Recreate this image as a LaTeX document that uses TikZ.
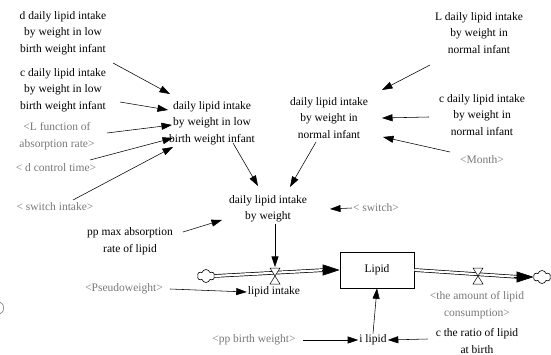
\documentclass[tikz,border=0pt]{standalone}
\usepackage{fontspec}
\setmainfont{Liberation Serif}
\usetikzlibrary{arrows.meta,shapes.symbols,calc}
\definecolor{shadowgray}{RGB}{120,120,120}
\begin{document}
\begin{tikzpicture}[x=1pt,y=-1pt,
  lbl/.style={align=center,font=\fontsize{11.5}{16.5}\selectfont,inner sep=1pt},
  shadow/.style={lbl,text=shadowgray},
  arr/.style={-{Triangle[length=10.5pt,width=7pt]},line width=0.55pt},
  bigarr/.style={-{Triangle[length=17pt,width=11pt]},line width=0.6pt},
  pipe/.style={double,double distance=2.2pt,line width=0.7pt},
  stock/.style={draw,line width=0.6pt,minimum width=74pt,minimum height=36pt,
    font=\fontsize{11.5}{16.5}\selectfont},
  cloudy/.style={cloud,cloud puffs=6,draw,line width=0.6pt,fill=white,
    minimum width=17pt,minimum height=13pt,inner sep=0pt},
  valvebody/.style={draw,line width=0.5pt,fill=white}
]
\useasboundingbox (0,0) rectangle (551,355);

% auxiliaries and constants
\node[lbl]    (dlow)   at (63,33)   {d daily lipid intake\\by weight in low\\birth weight infant};
\node[lbl]    (clow)   at (63,90)   {c daily lipid intake\\by weight in low\\birth weight infant};
\node[shadow] (lfun)   at (57,136)  {<L function of\\absorption rate>};
\node[shadow] (dctl)   at (56,168)  {< d control time>};
\node[shadow] (swin)   at (55,207)  {< switch intake>};
\node[lbl]    (low)    at (212,123) {daily lipid intake\\by weight in low\\birth weight infant};
\node[lbl]    (lnorm)  at (479,33)  {L daily lipid intake\\by weight in\\normal infant};
\node[lbl]    (norm)   at (329,118) {daily lipid intake\\by weight in\\normal infant};
\node[lbl]    (cnorm)  at (482,115) {c daily lipid intake\\by weight in\\normal infant};
\node[shadow] (month)  at (482,160) {<Month>};
\node[lbl]    (dlw)    at (268,209) {daily lipid intake\\by weight};
\node[shadow] (sw)     at (376,208) {< switch>};
\node[lbl]    (ppmax)  at (130,241) {pp max absorption\\rate of lipid};

% stock and flows
\node[stock]  (lipid)  at (377,270) {Lipid};
\node[cloudy] (src)    at (206,276) {};
\node[cloudy] (sink)   at (542,277) {};
\coordinate (v1) at (275,276);
\coordinate (v2) at (478,276);
\node[lbl]    (lin)    at (274,292) {lipid intake};
\node[shadow] (pseudo) at (124,289) {<Pseudoweight>};
\node[shadow] (amount) at (477,305) {<the amount of lipid\\consumption>};
\node[lbl]    (cratio) at (477,341) {c the ratio of lipid\\at birth};
\node[lbl]    (ilipid) at (373,340) {i lipid};
\node[shadow] (ppbw)   at (254,340) {<pp birth weight>};

% pipes
\draw[pipe] (src.east) -- ([xshift=-14pt]lipid.west);
\draw[bigarr] ([xshift=-18pt]lipid.west) -- (lipid.west);
\draw[pipe] (lipid.east) -- ([xshift=-14pt]sink.west);
\draw[bigarr] ([xshift=-20pt]sink.west) -- (sink.west);

% valves
\foreach \v in {v1,v2}{
  \draw[valvebody] ($(\v)+(-5,-8)$) -- ($(\v)+(5,-8)$) -- ($(\v)+(-5,8)$)
    -- ($(\v)+(5,8)$) -- cycle;
}

% links
\draw[arr] ($(dlow)+(50,30)$)  -- ($(low)+(-42,-29)$);
\draw[arr] ($(clow)+(57,12)$)  -- ($(low)+(-44,-13)$);
\draw[arr] ($(lfun)+(50,-3)$)  -- ($(low)+(-40,2)$);
\draw[arr] ($(dctl)+(34,-8)$)  -- ($(low)+(-39,15)$);
\draw[arr] ($(swin)+(18,-7)$)  -- ($(low)+(-39,24)$);
\draw[arr] ($(low)+(21,20)$)   -- ($(dlw)+(-10,-23)$);
\draw[arr] ($(lnorm)+(-49,32)$) -- ($(norm)+(53,-28)$);
\draw[arr] ($(cnorm)+(-53,2)$) -- ($(norm)+(53,0)$);
\draw[arr] ($(month)+(-32,-8)$) -- ($(norm)+(54,19)$);
\draw[arr] ($(norm)+(-13,24)$) -- ($(dlw)+(22,-22)$);
\draw[arr] (sw.west) -- ($(dlw)+(62,0)$);
\draw[arr] ($(ppmax)+(53,-9)$) -- ($(dlw)+(-46,11)$);
\draw[arr] (v1 |- dlw.south) -- ($(v1)+(0,-9)$);
\draw[arr] ($(pseudo.east)+(6,0)$) -- (lin.west);
\draw[arr] ($(ppbw.east)+(6,0)$) -- (ilipid.west);
\draw[arr] ($(cratio.west)+(-7,-2)$) -- (ilipid.east);
\draw[arr] (ilipid.north) -- (lipid.south);

% partial cloud at the left border
\draw[shadowgray,line width=0.6pt] (0,302) .. controls (5,304) and (5,312) .. (0,314);
\end{tikzpicture}
\end{document}
